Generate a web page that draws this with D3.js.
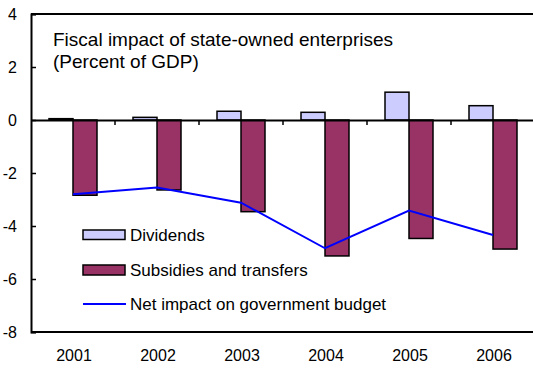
<!DOCTYPE html>
<html>
<head>
<meta charset="utf-8">
<script src="https://cdn.jsdelivr.net/npm/d3@7"></script>
<style>
  html, body { margin: 0; padding: 0; background: #fff; }
  svg { display: block; font-family: "Liberation Sans", Arial, sans-serif; }
</style>
</head>
<body>
<svg id="chart" width="533" height="369"></svg>
<script>
// Fiscal impact of state-owned enterprises, percent of GDP
const years = ["2001", "2002", "2003", "2004", "2005", "2006"];
const dividends = [0.05, 0.10, 0.33, 0.29, 1.05, 0.54];
const subsidies = [-2.84, -2.64, -3.46, -5.13, -4.47, -4.87];
const netImpact = [-2.80, -2.55, -3.12, -4.84, -3.42, -4.34];
const yTicks = [4, 2, 0, -2, -4, -6, -8];
const seriesNames = ["Dividends", "Subsidies and transfers", "Net impact on government budget"];
const titleLines = ["Fiscal impact of state-owned enterprises", "(Percent of GDP)"];

const colors = { div: "#CCCCFF", sub: "#993366", net: "#0000FF" };

const svg = d3.select("#chart");
const plot = { left: 31, right: 535, top: 14, bottom: 332 };

const x0 = d3.scaleBand().domain(years).range([plot.left, plot.right]).padding(0);
const x1 = d3.scaleBand().domain(["div", "sub"]).range([0, x0.bandwidth()])
  .paddingInner(0).paddingOuter(0.75);
const y = d3.scaleLinear().domain([-8, 4]).range([plot.bottom, plot.top]);

// frame: top border and bottom axis line
svg.append("line")
  .attr("x1", plot.left).attr("x2", plot.right)
  .attr("y1", y(4)).attr("y2", y(4))
  .attr("stroke", "#000").attr("stroke-width", 2);
svg.append("line")
  .attr("x1", plot.left).attr("x2", plot.right)
  .attr("y1", y(-8)).attr("y2", y(-8))
  .attr("stroke", "#000").attr("stroke-width", 2);

// y axis with inward ticks
const yAxis = d3.axisRight(y).tickValues(yTicks).tickSize(5).tickFormat("");
const yg = svg.append("g").attr("transform", `translate(${plot.left},0)`).call(yAxis);
yg.select(".domain").attr("stroke-width", 2);
yg.selectAll(".tick line").attr("stroke-width", 1.5);

svg.append("g").selectAll("text").data(yTicks).join("text")
  .attr("x", 17).attr("y", d => y(d))
  .attr("dy", "0.35em")
  .attr("text-anchor", "end")
  .attr("font-size", 16)
  .text(d => d);

// bars
const rows = years.map((yr, i) => ({ yr, div: dividends[i], sub: subsidies[i], net: netImpact[i] }));

const groups = svg.append("g").selectAll("g").data(rows).join("g")
  .attr("transform", d => `translate(${x0(d.yr)},0)`);

groups.append("rect")
  .attr("x", x1("div")).attr("width", x1.bandwidth())
  .attr("y", d => y(Math.max(0, d.div)))
  .attr("height", d => Math.abs(y(d.div) - y(0)))
  .attr("fill", colors.div).attr("stroke", "#000").attr("stroke-width", 1.5);

groups.append("rect")
  .attr("x", x1("sub")).attr("width", x1.bandwidth())
  .attr("y", d => y(Math.max(0, d.sub)))
  .attr("height", d => Math.abs(y(d.sub) - y(0)))
  .attr("fill", colors.sub).attr("stroke", "#000").attr("stroke-width", 1.5);

// zero line with category separators
const xAxis = d3.axisBottom(x0).tickSize(0).tickFormat("");
const zg = svg.append("g").attr("transform", `translate(0,${y(0)})`).call(xAxis);
zg.select(".domain").attr("stroke-width", 2);
svg.append("g").selectAll("line").data(years.slice(1)).join("line")
  .attr("x1", d => x0(d)).attr("x2", d => x0(d))
  .attr("y1", y(0)).attr("y2", y(0) + 5)
  .attr("stroke", "#000").attr("stroke-width", 1.5);

// category labels
svg.append("g").selectAll("text").data(years).join("text")
  .attr("x", d => x0(d) + x0.bandwidth() / 2 + 1)
  .attr("y", 361)
  .attr("text-anchor", "middle")
  .attr("font-size", 16)
  .text(d => d);

// net impact line
const line = d3.line()
  .x(d => x0(d.yr) + x0.bandwidth() / 2)
  .y(d => y(d.net));
svg.append("path").datum(rows)
  .attr("d", line)
  .attr("fill", "none").attr("stroke", colors.net).attr("stroke-width", 2);

// title
svg.append("g").selectAll("text").data(titleLines).join("text")
  .attr("x", 53).attr("y", (d, i) => 46 + i * 22)
  .attr("font-size", 19)
  .text(d => d);

// legend
const lg = svg.append("g");
lg.append("rect").attr("x", 83).attr("y", 230).attr("width", 42).attr("height", 9.5)
  .attr("fill", colors.div).attr("stroke", "#000").attr("stroke-width", 1.5);
lg.append("rect").attr("x", 83).attr("y", 265).attr("width", 42).attr("height", 10)
  .attr("fill", colors.sub).attr("stroke", "#000").attr("stroke-width", 1.5);
lg.append("line").attr("x1", 83).attr("x2", 126).attr("y1", 304).attr("y2", 304)
  .attr("stroke", colors.net).attr("stroke-width", 2);
lg.selectAll("text").data(seriesNames).join("text")
  .attr("x", 130).attr("y", (d, i) => [241, 276, 310][i])
  .attr("font-size", 17)
  .text(d => d);
</script>
</body>
</html>
